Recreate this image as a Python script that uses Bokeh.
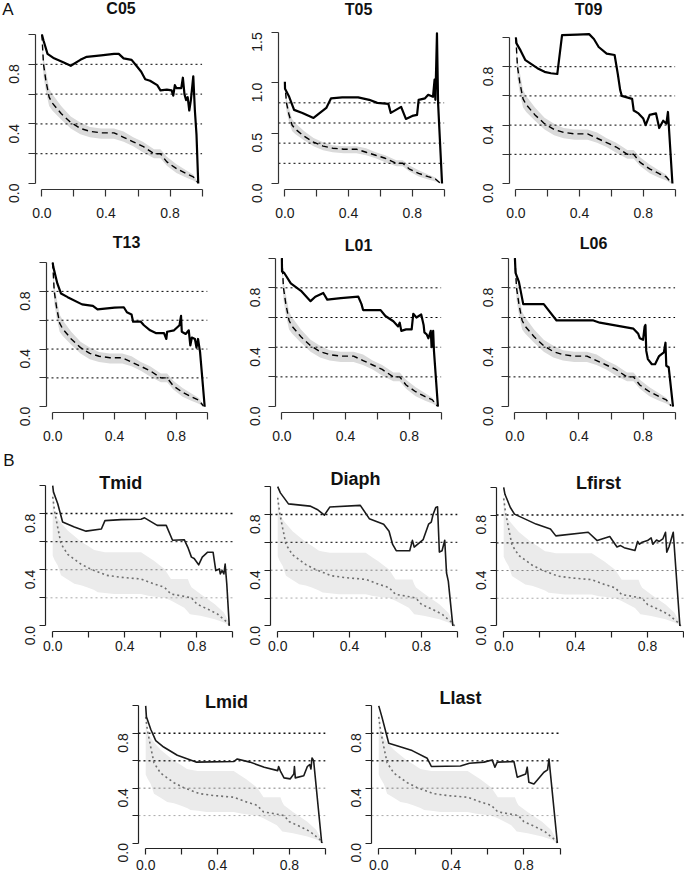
import math
from bokeh.plotting import figure
from bokeh.layouts import column, row
from bokeh.models import Label, Spacer, FixedTicker, Range1d, PrintfTickFormatter, Div
from bokeh.embed import file_html
from bokeh.resources import INLINE

# ---------------- data ----------------
h_levels = [0.2, 0.4, 0.6, 0.8]
x_ticks = [0.0, 0.4, 0.8]
x_minor = [0.2, 0.6, 1.0]
y_ticks = [0.0, 0.4, 0.8]
y_minor = [0.2, 0.6, 1.0]
t05_y_ticks = [0.0, 0.5, 1.0, 1.5]

# Section A reference curve (dashed) and its band
a_x = [0.0, 0.01, 0.025, 0.045, 0.065, 0.12, 0.18, 0.24, 0.30, 0.37, 0.45, 0.51, 0.57, 0.63, 0.70, 0.74, 0.78, 0.84, 0.90, 0.945, 0.975]
a_mean = [1.0, 0.80, 0.69, 0.58, 0.54, 0.47, 0.41, 0.37, 0.35, 0.34, 0.34, 0.31, 0.28, 0.25, 0.20, 0.20, 0.145, 0.10, 0.067, 0.045, 0.005]
a_lo = [0.96, 0.72, 0.62, 0.52, 0.49, 0.43, 0.37, 0.33, 0.31, 0.30, 0.30, 0.28, 0.25, 0.21, 0.17, 0.17, 0.12, 0.07, 0.04, 0.02, 0.0]
a_hi = [1.0, 0.85, 0.76, 0.64, 0.60, 0.52, 0.45, 0.41, 0.38, 0.37, 0.37, 0.35, 0.31, 0.28, 0.23, 0.23, 0.18, 0.13, 0.09, 0.06, 0.01]

# Section B reference curve (dotted) and its band
b_x = [0.0, 0.01, 0.028, 0.046, 0.083, 0.157, 0.21, 0.30, 0.38, 0.49, 0.56, 0.62, 0.656, 0.71, 0.77, 0.80, 0.86, 0.915, 0.97, 0.985]
b_mean = [0.92, 0.82, 0.70, 0.585, 0.51, 0.44, 0.405, 0.36, 0.346, 0.334, 0.30, 0.275, 0.227, 0.215, 0.20, 0.155, 0.12, 0.084, 0.024, 0.0]
b_band_x = [0.0, 0.01, 0.028, 0.037, 0.046, 0.083, 0.12, 0.157, 0.19, 0.23, 0.25, 0.29, 0.34, 0.49, 0.53, 0.56, 0.62, 0.656, 0.73, 0.75, 0.76, 0.77, 0.82, 0.90, 0.95, 0.985]
b_hi = [0.97, 0.80, 0.765, 0.75, 0.735, 0.68, 0.64, 0.60, 0.575, 0.54, 0.535, 0.525, 0.525, 0.525, 0.49, 0.465, 0.405, 0.334, 0.334, 0.334, 0.30, 0.275, 0.227, 0.155, 0.095, 0.012]
b_lo = [0.50, 0.47, 0.43, 0.395, 0.36, 0.33, 0.30, 0.29, 0.275, 0.255, 0.24, 0.235, 0.227, 0.227, 0.215, 0.21, 0.20, 0.18, 0.13, 0.10, 0.084, 0.082, 0.072, 0.048, 0.025, 0.0]

c05_x = [0, 0.01, 0.035, 0.076, 0.14, 0.18, 0.24, 0.28, 0.37, 0.45, 0.48, 0.51, 0.56, 0.59, 0.62, 0.645, 0.675, 0.72, 0.74, 0.78, 0.81, 0.82, 0.83, 0.84, 0.87, 0.88, 0.89, 0.90, 0.91, 0.92, 0.93, 0.945, 0.955, 0.965, 0.976]
c05_y = [1.0, 0.96, 0.87, 0.84, 0.81, 0.79, 0.83, 0.85, 0.86, 0.87, 0.87, 0.84, 0.83, 0.79, 0.75, 0.70, 0.69, 0.66, 0.625, 0.63, 0.625, 0.59, 0.66, 0.64, 0.64, 0.71, 0.60, 0.56, 0.58, 0.49, 0.56, 0.72, 0.49, 0.33, 0.0]

t05_x = [0, 0.001, 0.027, 0.058, 0.11, 0.18, 0.26, 0.29, 0.36, 0.46, 0.53, 0.58, 0.65, 0.665, 0.73, 0.76, 0.80, 0.83, 0.84, 0.88, 0.90, 0.93, 0.94, 0.945, 0.955, 0.962, 0.987]
t05_y = [1.01, 0.94, 0.86, 0.73, 0.70, 0.65, 0.75, 0.845, 0.855, 0.855, 0.83, 0.80, 0.79, 0.70, 0.76, 0.64, 0.67, 0.68, 0.83, 0.845, 0.88, 0.86, 1.03, 0.83, 1.49, 0.80, 0.0]

t09_x = [0, 0.004, 0.03, 0.06, 0.135, 0.18, 0.22, 0.26, 0.29, 0.385, 0.46, 0.49, 0.52, 0.57, 0.62, 0.64, 0.655, 0.665, 0.73, 0.74, 0.77, 0.80, 0.815, 0.84, 0.88, 0.90, 0.925, 0.945, 0.955, 0.983]
t09_y = [1.0, 0.96, 0.91, 0.845, 0.79, 0.765, 0.755, 0.75, 1.016, 1.02, 1.023, 0.99, 0.935, 0.89, 0.88, 0.75, 0.64, 0.60, 0.58, 0.50, 0.48, 0.445, 0.40, 0.47, 0.48, 0.38, 0.43, 0.41, 0.49, 0.0]

t13_x = [0, 0.004, 0.03, 0.054, 0.097, 0.19, 0.26, 0.29, 0.40, 0.46, 0.48, 0.51, 0.52, 0.57, 0.59, 0.63, 0.67, 0.72, 0.735, 0.74, 0.785, 0.82, 0.83, 0.835, 0.86, 0.88, 0.89, 0.90, 0.92, 0.93, 0.94, 0.953, 0.983]
t13_y = [1.0, 0.97, 0.855, 0.785, 0.76, 0.71, 0.70, 0.675, 0.687, 0.69, 0.655, 0.64, 0.59, 0.59, 0.565, 0.53, 0.51, 0.51, 0.47, 0.52, 0.53, 0.565, 0.63, 0.52, 0.505, 0.53, 0.425, 0.48, 0.47, 0.41, 0.47, 0.38, 0.0]

l01_x = [0, 0.001, 0.015, 0.056, 0.12, 0.18, 0.21, 0.26, 0.285, 0.37, 0.48, 0.50, 0.51, 0.62, 0.65, 0.70, 0.73, 0.74, 0.75, 0.78, 0.815, 0.825, 0.845, 0.875, 0.89, 0.895, 0.91, 0.92, 0.935, 0.94, 0.95, 0.955, 0.98]
l01_y = [1.0, 0.91, 0.90, 0.83, 0.78, 0.71, 0.74, 0.765, 0.72, 0.73, 0.74, 0.69, 0.65, 0.65, 0.61, 0.575, 0.54, 0.565, 0.51, 0.52, 0.52, 0.625, 0.60, 0.62, 0.55, 0.50, 0.485, 0.46, 0.51, 0.40, 0.51, 0.375, 0.0]

l06_x = [0, 0.004, 0.025, 0.052, 0.18, 0.26, 0.49, 0.53, 0.74, 0.77, 0.78, 0.80, 0.81, 0.815, 0.82, 0.83, 0.855, 0.875, 0.90, 0.93, 0.94, 0.945, 0.96, 0.987]
l06_y = [1.0, 0.90, 0.84, 0.69, 0.69, 0.58, 0.58, 0.565, 0.525, 0.49, 0.46, 0.45, 0.54, 0.55, 0.375, 0.32, 0.285, 0.285, 0.34, 0.365, 0.43, 0.275, 0.265, 0.0]

tmid_x = [0, 0.004, 0.028, 0.055, 0.12, 0.185, 0.27, 0.29, 0.38, 0.49, 0.51, 0.58, 0.63, 0.665, 0.73, 0.75, 0.77, 0.785, 0.81, 0.83, 0.86, 0.89, 0.905, 0.925, 0.93, 0.94, 0.95, 0.957, 0.966, 0.98]
tmid_y = [1.0, 0.955, 0.87, 0.74, 0.705, 0.675, 0.69, 0.75, 0.757, 0.76, 0.77, 0.716, 0.716, 0.61, 0.614, 0.56, 0.49, 0.48, 0.435, 0.49, 0.525, 0.525, 0.394, 0.406, 0.37, 0.394, 0.37, 0.44, 0.30, 0.0]

diaph_x = [0, 0.015, 0.06, 0.18, 0.22, 0.26, 0.29, 0.46, 0.51, 0.59, 0.62, 0.64, 0.66, 0.735, 0.75, 0.76, 0.81, 0.84, 0.855, 0.865, 0.88, 0.89, 0.90, 0.915, 0.93, 0.94, 0.95, 0.975]
diaph_y = [1.0, 0.955, 0.876, 0.86, 0.836, 0.795, 0.853, 0.865, 0.77, 0.73, 0.68, 0.585, 0.54, 0.54, 0.614, 0.566, 0.62, 0.73, 0.745, 0.80, 0.85, 0.855, 0.53, 0.54, 0.615, 0.38, 0.32, 0.0]

lfirst_x = [0, 0.007, 0.037, 0.06, 0.18, 0.26, 0.29, 0.47, 0.52, 0.59, 0.63, 0.65, 0.67, 0.73, 0.745, 0.755, 0.77, 0.80, 0.82, 0.83, 0.85, 0.865, 0.885, 0.90, 0.907, 0.92, 0.943, 0.98]
lfirst_y = [1.0, 0.95, 0.855, 0.807, 0.735, 0.70, 0.65, 0.676, 0.616, 0.645, 0.57, 0.58, 0.565, 0.545, 0.61, 0.59, 0.604, 0.616, 0.635, 0.59, 0.62, 0.61, 0.628, 0.676, 0.532, 0.573, 0.676, 0.0]

lmid_x = [0, 0.004, 0.028, 0.056, 0.10, 0.176, 0.28, 0.49, 0.51, 0.58, 0.66, 0.735, 0.74, 0.75, 0.77, 0.805, 0.825, 0.828, 0.833, 0.88, 0.90, 0.913, 0.92, 0.926, 0.935, 0.98]
lmid_y = [1.0, 0.92, 0.83, 0.747, 0.70, 0.64, 0.59, 0.594, 0.613, 0.59, 0.553, 0.528, 0.558, 0.524, 0.475, 0.468, 0.504, 0.558, 0.475, 0.49, 0.558, 0.572, 0.54, 0.62, 0.60, 0.0]

llast_x = [0, 0.018, 0.055, 0.10, 0.184, 0.267, 0.29, 0.45, 0.50, 0.58, 0.625, 0.64, 0.653, 0.745, 0.763, 0.81, 0.818, 0.827, 0.855, 0.91, 0.93, 0.938, 0.984]
llast_y = [1.0, 0.916, 0.727, 0.71, 0.674, 0.618, 0.558, 0.562, 0.582, 0.59, 0.606, 0.553, 0.59, 0.594, 0.48, 0.504, 0.553, 0.444, 0.43, 0.516, 0.533, 0.613, 0.0]

# ---------------- layout (reference pixel geometry) ----------------
FONT = "Liberation Sans"
W_TOTAL = 684
H_TOTAL = 873


def X(v):
    return int(round(v))


def Y(v):
    return int(round(v))


STYLE_A = dict(band="#dadada", mean_color="black", mean_dash="6 4", mean_w=1.4,
               solid_color="black", solid_w=2.2, axis_color="#333333",
               h_colors=["black"] * 4, h_widths=[1, 1, 1, 1], title_size="16px",
               tick_out=7, standoff_y=14, standoff_x=11)
STYLE_B = dict(band="#ebebeb", mean_color="#707070", mean_dash="2 3", mean_w=1.6,
               solid_color="#1a1a1a", solid_w=1.6, axis_color="#222222",
               h_colors=["#aaaaaa", "#808080", "#333333", "#111111"],
               h_widths=[1, 1, 1.3, 1.5], title_size="18px",
               tick_out=6, standoff_y=9, standoff_x=3)


def base_figure(width, height, xr, yr, borders):
    p = figure(width=width, height=height, x_range=Range1d(*xr), y_range=Range1d(*yr),
               min_border_left=borders[0], min_border_right=borders[1],
               min_border_top=borders[2], min_border_bottom=borders[3],
               output_backend="svg", toolbar_location=None, tools="")
    p.outline_line_color = None
    p.grid.visible = False
    p.background_fill_color = "white"
    p.border_fill_color = "white"
    return p


def text_strip(box, items):
    """HTML strip holding the section letter (and a title) above a panel."""
    L, R, T, B = box
    spans = []
    for text, cx, cy, size, bold in items:
        spans.append(
            '<span style="position:absolute;left:%dpx;top:%dpx;transform:translate(-50%%,-50%%);'
            "font-family:'%s';font-size:%s;font-weight:%s;color:#111111;white-space:nowrap;"
            'line-height:1;">%s</span>' % (cx - L, cy - T, FONT, size, "bold" if bold else "normal", text))
    html = ('<div style="position:relative;width:%dpx;height:%dpx;overflow:visible;">%s</div>'
            % (X(R) - X(L), Y(B) - Y(T), "".join(spans)))
    return Div(text=html, width=X(R) - X(L), height=Y(B) - Y(T), margin=(0, 0, 0, 0))


def make_panel(name, sx, sy, box, px0, px1, py0, pyt, title_xy, style,
               ytop=1.0, ymax=1.0, xmax=1.04, yt=None, top_ref=None, standoff_x=None,
               ref_x=None, ref_mean=None, band_x=None, band_lo=None, band_hi=None):
    L, R, T, B = box
    if top_ref is None:
        top_ref = T
    ux = px1 - px0
    uy = (py0 - pyt) / ytop
    xr = (-0.04, xmax)
    yr = (-0.04 * ymax, (py0 - top_ref) / uy)
    fl = px0 + xr[0] * ux
    fr = px0 + xr[1] * ux
    fb = py0 - yr[0] * uy
    p = base_figure(X(R) - X(L), Y(B) - Y(T), xr, yr,
                    (X(fl) - X(L), max(0, X(R) - X(fr)), 0, Y(B) - Y(fb)))

    p.varea(x=band_x, y1=band_lo, y2=band_hi, fill_color=style["band"], fill_alpha=1.0)
    n = len(h_levels)
    p.segment(x0=[xr[0]] * n, x1=[x_minor[-1]] * n, y0=h_levels, y1=h_levels,
              line_color=style["h_colors"], line_width=style["h_widths"], line_dash="2 3")
    p.line(ref_x, ref_mean, line_color=style["mean_color"], line_dash=style["mean_dash"],
           line_width=style["mean_w"])
    p.line(sx, sy, line_color=style["solid_color"], line_width=style["solid_w"],
           line_join="round")

    xa = p.xaxis[0]
    ya = p.yaxis[0]
    xa.ticker = FixedTicker(ticks=x_ticks, minor_ticks=x_minor)
    xa.bounds = (0, 1.0)
    if yt is None:
        ya.ticker = FixedTicker(ticks=y_ticks, minor_ticks=y_minor)
        ya.bounds = (0, 1.0)
    else:
        ya.ticker = FixedTicker(ticks=yt, minor_ticks=[])
        ya.bounds = (yt[0], yt[-1])
    for ax in (xa, ya):
        ax.formatter = PrintfTickFormatter(format="%.1f")
        ax.axis_line_color = style["axis_color"]
        ax.axis_line_width = 1.2
        ax.major_tick_line_color = style["axis_color"]
        ax.minor_tick_line_color = style["axis_color"]
        ax.major_tick_line_width = 1.2
        ax.minor_tick_line_width = 1.2
        ax.major_tick_in = 0
        ax.minor_tick_in = 0
        ax.major_tick_out = style["tick_out"]
        ax.minor_tick_out = style["tick_out"]
        ax.major_label_text_font = FONT
        ax.major_label_text_font_size = "14px"
        ax.major_label_text_color = "#1a1a1a"
    xa.major_label_standoff = style["standoff_x"] if standoff_x is None else standoff_x
    ya.major_label_standoff = style["standoff_y"]
    ya.major_label_orientation = math.pi / 2

    if title_xy is not None:
        tx = (title_xy[0] - px0) / ux
        ty = (py0 - title_xy[1]) / uy
        p.add_layout(Label(x=tx, y=ty, text=name, text_align="center", text_baseline="middle",
                           text_font=FONT, text_font_style="bold",
                           text_font_size=style["title_size"], text_color="#111111"))
    return p


A = dict(style=STYLE_A, ref_x=a_x, ref_mean=a_mean, band_x=a_x, band_lo=a_lo, band_hi=a_hi)
Bk = dict(style=STYLE_B, ref_x=b_x, ref_mean=b_mean, band_x=b_band_x, band_lo=b_lo, band_hi=b_hi)

# row 1
strip_a = text_strip((0, 238, 0, 22), [("A", 8, 9, "17px", False), ("C05", 121, 9, "16px", True)])
p_c05 = make_panel("C05", c05_x, c05_y, (0, 238, 22, 222), 41, 202, 183, 34, None, **A)
p_t05 = make_panel("T05", t05_x, t05_y, (238, 472, 0, 222), 284, 444, 184, 32, (358, 9),
                   ytop=1.5, ymax=1.5, yt=t05_y_ticks, **A)
p_t09 = make_panel("T09", t09_x, t09_y, (472, W_TOTAL, 0, 222), 515, 675, 183, 37, (588, 9),
                   ymax=1.023, **A)

# row 2
p_t13 = make_panel("T13", t13_x, t13_y, (0, 238, 222, 448), 52, 207, 406, 262, (126, 242), **A)
p_l01 = make_panel("L01", l01_x, l01_y, (238, 472, 222, 448), 281, 441, 408, 258, (358, 245), **A)
p_l06 = make_panel("L06", l06_x, l06_y, (472, W_TOTAL, 222, 448), 514, 675, 408, 258, (593, 243), **A)

# row 3
strip_b = text_strip((0, 238, 448, 470), [("B", 9, 460, "17px", False)])
p_tmid = make_panel("Tmid", tmid_x, tmid_y, (0, 238, 470, 664), 52, 232, 625, 485, (120, 482),
                    xmax=1.02, **Bk)
p_diaph = make_panel("Diaph", diaph_x, diaph_y, (238, 465, 448, 664), 277, 457, 625, 486, (355, 478), **Bk)
p_lfirst = make_panel("Lfirst", lfirst_x, lfirst_y, (465, W_TOTAL, 448, 664), 503, 683, 626, 487, (598, 483),
                      xmax=(W_TOTAL - 503) / 180, **Bk)

# row 4
p_lmid = make_panel("Lmid", lmid_x, lmid_y, (105, 340, 664, H_TOTAL), 145, 325, 843, 705.5, (226, 702),
                    standoff_x=5, **Bk)
p_llast = make_panel("Llast", llast_x, llast_y, (340, W_TOTAL, 664, H_TOTAL), 378, 560, 843, 705.5, (460, 698),
                     standoff_x=5, **Bk)
spacer = Spacer(width=X(105), height=Y(H_TOTAL) - Y(664))

layout = column(
    row(column(strip_a, p_c05), p_t05, p_t09),
    row(p_t13, p_l01, p_l06),
    row(column(strip_b, p_tmid), p_diaph, p_lfirst),
    row(spacer, p_lmid, p_llast),
)

open("out.html", "w").write(file_html(layout, INLINE))
